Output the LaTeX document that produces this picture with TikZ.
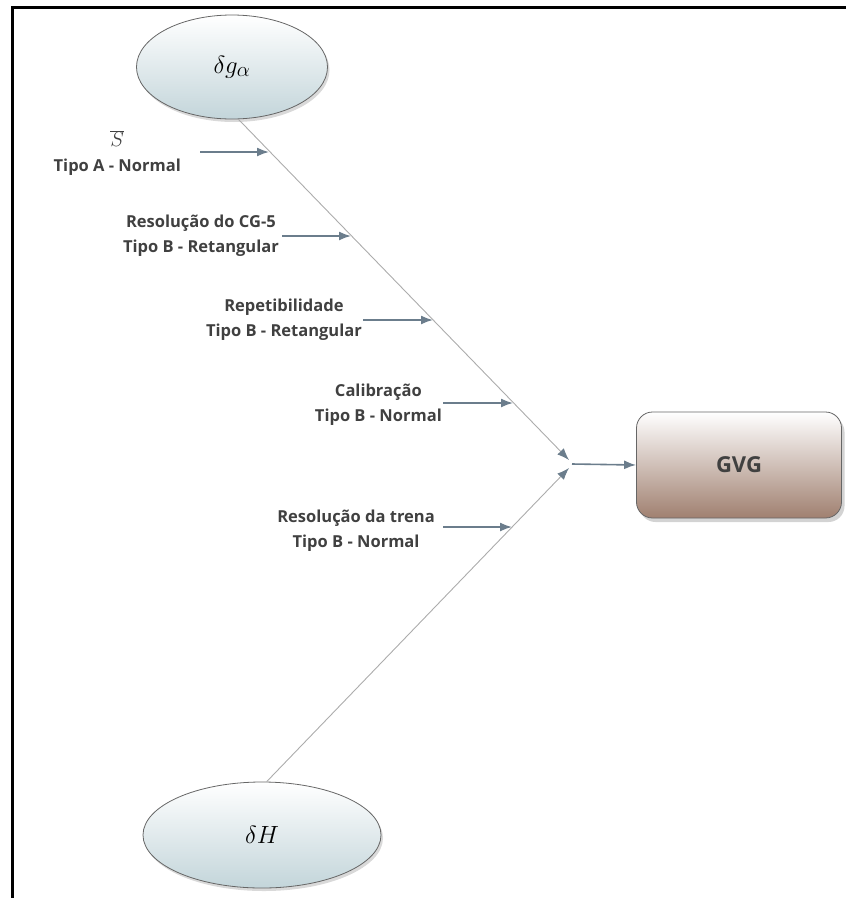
\documentclass[tikz,border=0pt]{standalone}
\usepackage{fontspec}
\setmainfont{Open Sans}
\usepackage{tikz}
\usetikzlibrary{arrows.meta,positioning,shapes.geometric,shadows}
\definecolor{slate}{HTML}{6B7D8C}
\definecolor{ink}{HTML}{404040}
\definecolor{bone}{HTML}{A08070}
\definecolor{mist}{HTML}{C3D5DA}
\tikzset{
  lbl/.style={font=\fontsize{16.5}{25}\selectfont\bfseries, text=ink, align=center, inner sep=0pt},
  feed/.style={-{Latex[length=12pt,width=9pt]}, slate, line width=1.6pt},
  spine/.style={draw=gray!65, line width=0.9pt, -{Latex[length=12pt,width=9pt,color=slate]}},
  src/.style={ellipse, draw=gray!80!black, line width=0.8pt, top color=white, bottom color=mist,
    drop shadow={opacity=0.3, shadow xshift=2pt, shadow yshift=-3pt}, inner sep=0pt},
  outbox/.style={rectangle, rounded corners=16pt, draw=gray!80!black, line width=0.8pt,
    top color=white, bottom color=bone, minimum width=205pt, minimum height=106pt,
    drop shadow={opacity=0.35, shadow xshift=3pt, shadow yshift=-4pt},
    font=\fontsize{22}{26}\selectfont\bfseries, text=ink}
}

\begin{document}
\begin{tikzpicture}[x=1pt, y=-1pt]
\useasboundingbox (0,0) rectangle (846,898);
% --- moldura ---
\draw[line width=3pt] (12,898) -- (12,7.5) -- (846,7.5);

% --- fontes e resultado ---
\node[src, minimum width=191pt, minimum height=104pt] (dga) at (232,67) {\fontsize{31}{34}\selectfont$\delta g_{\alpha}$};
\node[src, minimum width=238pt, minimum height=106pt] (dh) at (262,835) {\fontsize{31}{34}\selectfont$\delta H$};
\node[outbox] (gvg) at (739,465) {GVG};

% --- espinhas ---
\coordinate (jt) at (569,460);
\coordinate (jb) at (569,468);
\coordinate (j) at (572,464);
\draw[spine] (dga.-83) -- (jt);
\draw[spine] (dh.85) -- (jb);
\draw[feed] (j) -- (gvg.west);

% --- componentes de incerteza ---
\coordinate (s1) at (200,152); \coordinate (p1) at (269,152);
\coordinate (s2) at (282,236); \coordinate (p2) at (351,236);
\coordinate (s3) at (363,320); \coordinate (p3) at (433,320);
\coordinate (s4) at (443,403); \coordinate (p4) at (513,403);
\coordinate (s5) at (443,527); \coordinate (p5) at (512,527);
\node[lbl, left=19pt of s1, yshift=-1pt] (l1) {\fontsize{20}{22}\selectfont$\overline{S}$\\Tipo A - Normal};
\node[lbl, left=3pt of s2] (l2) {Resolução do CG-5\\Tipo B - Retangular};
\node[lbl, left=1pt of s3] (l3) {Repetibilidade\\Tipo B - Retangular};
\node[lbl, left=1pt of s4, yshift=-2pt] (l4) {Calibração\\Tipo B - Normal};
\node[lbl, left=8pt of s5, yshift=-4pt] (l5) {Resolução da trena\\Tipo B - Normal};
\foreach \i in {1,...,5}
  \draw[feed] (s\i) -- (p\i);
\end{tikzpicture}
\end{document}
